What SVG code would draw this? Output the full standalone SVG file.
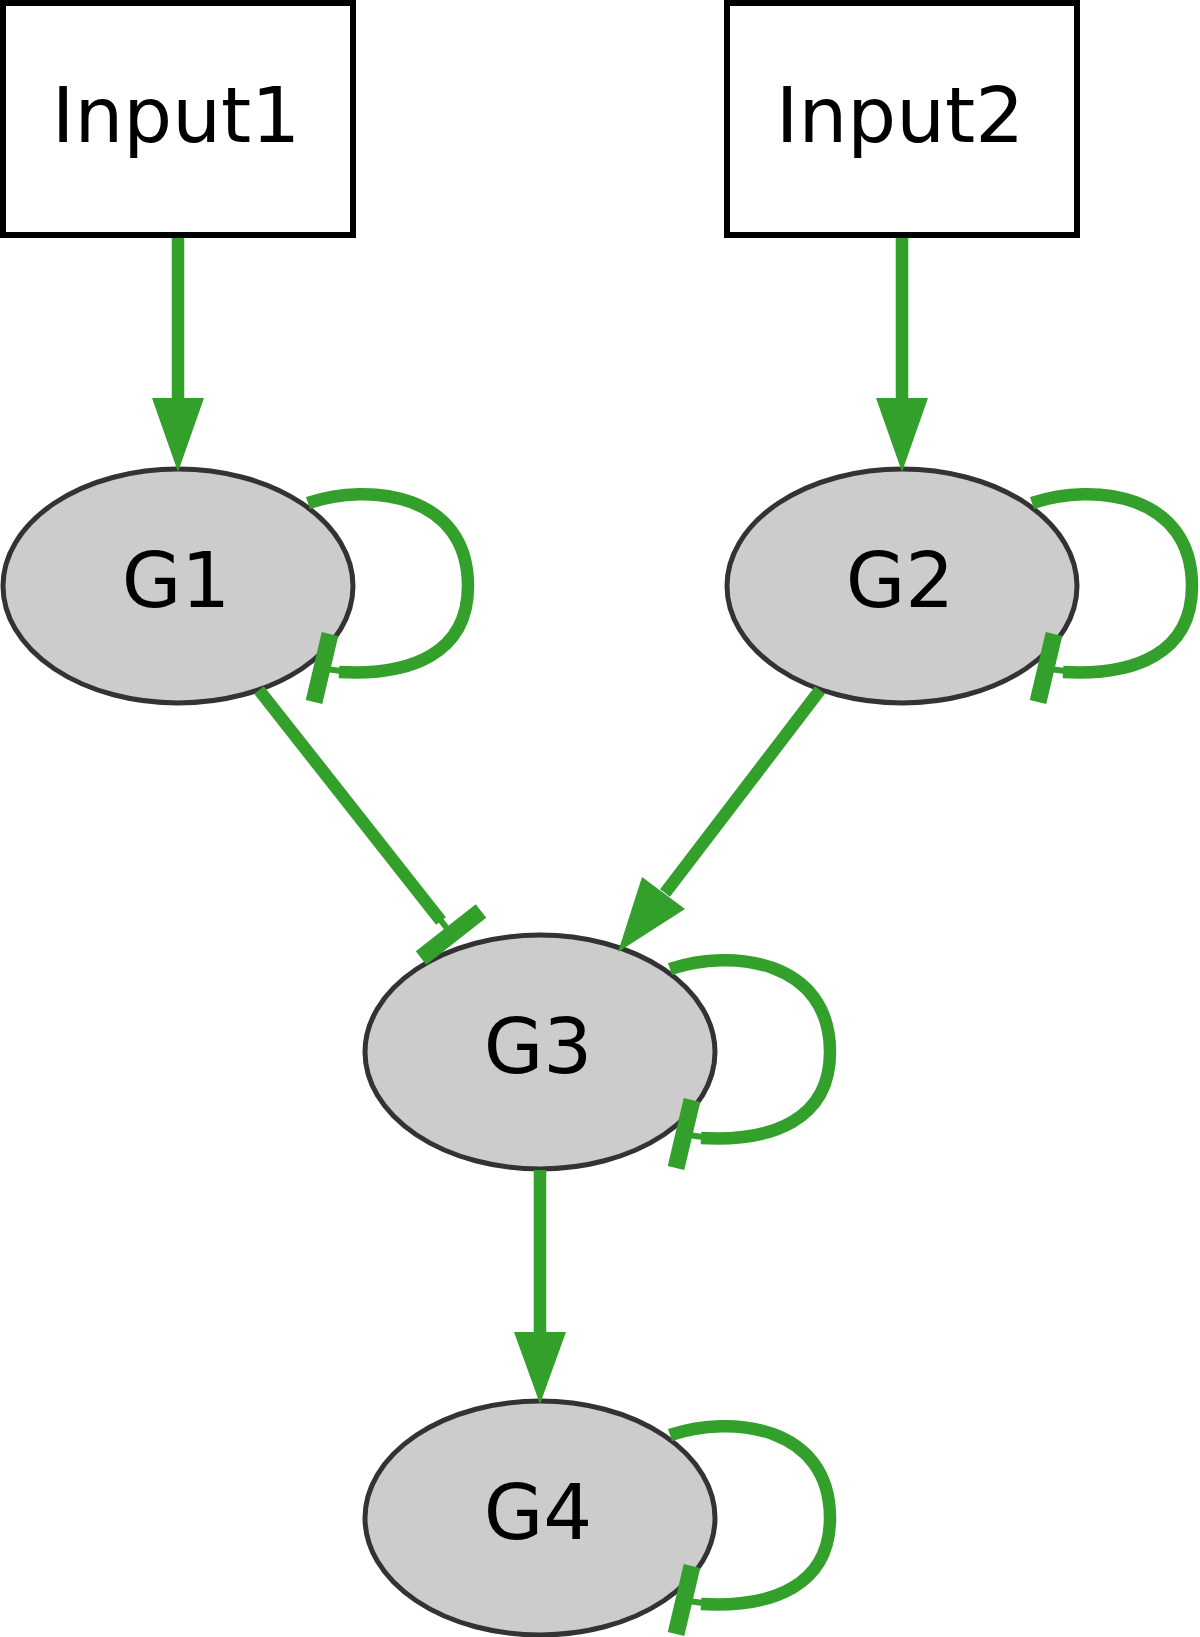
<svg xmlns="http://www.w3.org/2000/svg" width="1200" height="1637" viewBox="0 0 1200 1637">
<style>
.box{fill:#ffffff;stroke:#000000;stroke-width:6}
.gene{fill:#cccccc;stroke:#333333;stroke-width:5}
.lbl{font-family:"DejaVu Sans",sans-serif;font-size:77px;fill:#000000;text-anchor:middle}
.e{fill:none;stroke:#33a02c;stroke-width:12.5}
.stub{fill:none;stroke:#33a02c;stroke-width:6}
.bar{fill:none;stroke:#33a02c;stroke-width:17}
.ah{fill:#33a02c;stroke:none}
</style>
<rect width="1200" height="1637" fill="#ffffff"/>
<g id="Input1">
  <rect class="box" x="3" y="3" width="350" height="232"/>
  <text class="lbl" x="176" y="142">Input1</text>
</g>
<g id="Input2">
  <rect class="box" x="727" y="3" width="350" height="232"/>
  <text class="lbl" x="900" y="142">Input2</text>
</g>
<g id="G1">
  <ellipse class="gene" cx="178" cy="586" rx="175" ry="117"/>
  <text class="lbl" x="176" y="607">G1</text>
</g>
<g id="G2">
  <ellipse class="gene" cx="902" cy="586" rx="175" ry="117"/>
  <text class="lbl" x="900" y="607">G2</text>
</g>
<g id="G3">
  <ellipse class="gene" cx="540" cy="1052" rx="175" ry="117"/>
  <text class="lbl" x="538" y="1073">G3</text>
</g>
<g id="G4">
  <ellipse class="gene" cx="540" cy="1518" rx="175" ry="117"/>
  <text class="lbl" x="538" y="1539">G4</text>
</g>
<g id="connectors">
  <!-- Input1 -> G1 -->
  <path class="e" d="M178,238 L178,400"/>
  <polygon class="ah" points="152,398 204,398 178,472"/>
  <!-- Input2 -> G2 -->
  <path class="e" d="M902,238 L902,400"/>
  <polygon class="ah" points="876,398 928,398 902,472"/>
  <!-- G3 -> G4 -->
  <path class="e" d="M540,1170 L540,1334"/>
  <polygon class="ah" points="514,1332 566,1332 540,1404"/>
  <!-- G2 -> G3 -->
  <path class="e" d="M820,690 L665,893"/>
  <polygon class="ah" points="685,909 642,877 618,952"/>
  <!-- G1 -| G3 -->
  <path class="e" d="M259,690 L441,921"/>
  <path class="stub" d="M439,918 L452,935"/>
  <path class="bar" d="M481,911 L421,958"/>
  <!-- self loops -->
  <path class="e" d="M308,503 C370,482 468,494 468,586 C468,654 410,676 339,672"/>
  <path class="stub" d="M341,671 L326,669"/>
  <path class="bar" d="M330,634 L314,702"/>
  <path class="e" d="M1032,503 C1094,482 1192,494 1192,586 C1192,654 1134,676 1063,672"/>
  <path class="stub" d="M1065,671 L1050,669"/>
  <path class="bar" d="M1054,634 L1038,702"/>
  <path class="e" d="M670,969 C732,948 830,960 830,1052 C830,1120 772,1142 701,1138"/>
  <path class="stub" d="M703,1137 L688,1135"/>
  <path class="bar" d="M692,1100 L676,1168"/>
  <path class="e" d="M670,1435 C732,1414 830,1426 830,1518 C830,1586 772,1608 701,1604"/>
  <path class="stub" d="M703,1603 L688,1601"/>
  <path class="bar" d="M692,1566 L676,1634"/>
</g>
</svg>
